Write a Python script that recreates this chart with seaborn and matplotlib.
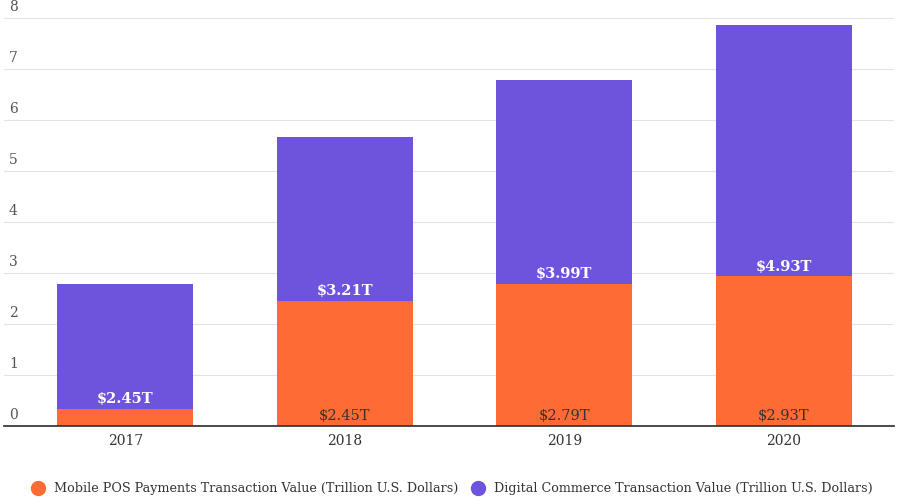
import matplotlib
matplotlib.use("Agg")
import matplotlib.pyplot as plt
import seaborn as sns
import pandas as pd
from matplotlib.lines import Line2D

years = ["2017", "2018", "2019", "2020"]
mobile_pos = [0.33, 2.45, 2.79, 2.93]
digital = [2.45, 3.21, 3.99, 4.93]
mobile_labels = ["", "$2.45T", "$2.79T", "$2.93T"]
digital_labels = ["$2.45T", "$3.21T", "$3.99T", "$4.93T"]
yticks = [0, 1, 2, 3, 4, 5, 6, 7, 8]

sns.set_theme(style="white")
plt.rcParams['font.family'] = ['DejaVu Serif']
orange = "#ff6b35"
purple = "#6e53dc"

df = pd.DataFrame({"year": years, "pos": mobile_pos, "total": [a + b for a, b in zip(mobile_pos, digital)]})

fig = plt.figure(figsize=(8.98, 5.04), dpi=100)
ax = fig.add_axes([0.005, 0.155, 0.99, 0.815])
sns.barplot(data=df, x="year", y="total", color=purple, width=0.62, saturation=1, linewidth=0, ax=ax)
sns.barplot(data=df, x="year", y="pos", color=orange, width=0.62, saturation=1, linewidth=0, ax=ax)

for i in range(len(years)):
    if mobile_labels[i]:
        ax.text(i, 0.05, mobile_labels[i], ha="center", va="bottom", fontsize=10.5, color="#333333")
    ax.text(i, mobile_pos[i] + 0.05, digital_labels[i], ha="center", va="bottom",
            fontsize=10.5, color="white", fontweight="bold")

ax.set_ylim(0, 8.05)
ax.set_xlim(-0.55, 3.5)
ax.set_yticks(yticks)
ax.set_yticklabels([])
for t in yticks:
    ax.text(-0.53, t + 0.08, str(t), ha="left", va="bottom", fontsize=10, color="#555555")
ax.yaxis.grid(True, color="#e3e3e3", linewidth=0.8)
ax.set_axisbelow(True)
for s in ["top", "right", "left"]:
    ax.spines[s].set_visible(False)
ax.spines["bottom"].set_color("#333333")
ax.tick_params(axis="x", labelsize=10, colors="#333333", length=0, pad=6)
ax.tick_params(axis="y", length=0)
ax.set_xlabel("")
ax.set_ylabel("")

handles = [Line2D([], [], marker="o", linestyle="", color=orange, markersize=10),
           Line2D([], [], marker="o", linestyle="", color=purple, markersize=10)]
fig.legend(handles, ["Mobile POS Payments Transaction Value (Trillion U.S. Dollars)",
                     "Digital Commerce Transaction Value (Trillion U.S. Dollars)"],
           loc="lower center", bbox_to_anchor=(0.5, -0.005), ncol=2, frameon=False,
           fontsize=9.2, handletextpad=0.2, columnspacing=0.6, labelcolor="#333333")
fig.savefig("out.png", dpi=100)
